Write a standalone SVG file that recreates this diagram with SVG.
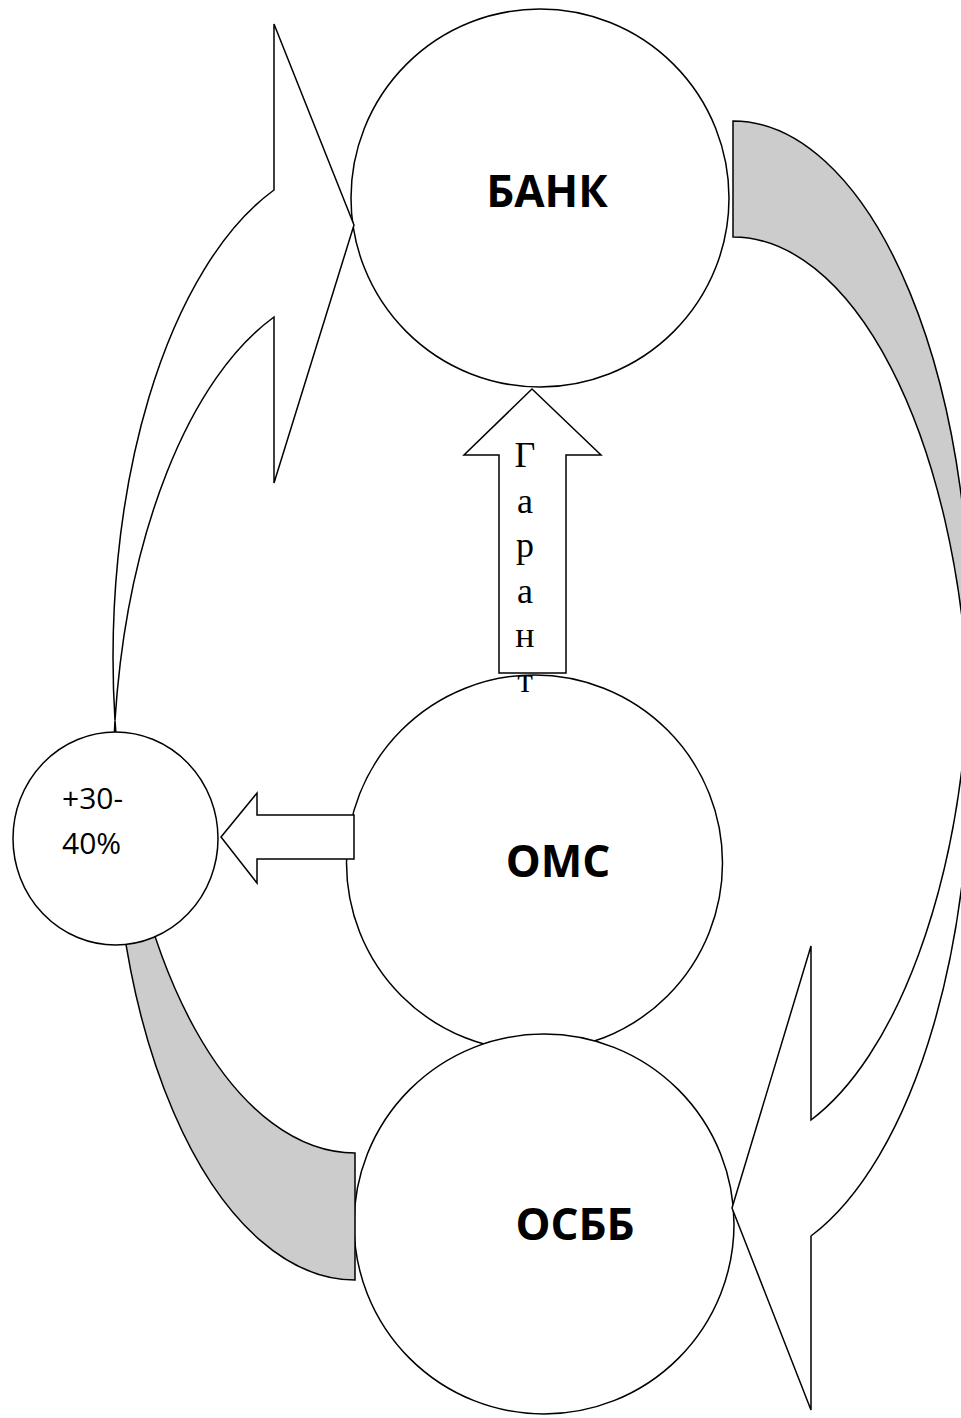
<svg xmlns="http://www.w3.org/2000/svg" width="961" height="1418" viewBox="0 0 961 1418">
<style>
.n{fill:#ffffff;stroke:#000000;stroke-width:1.5}
.a{fill:#ffffff;stroke:#000000;stroke-width:1.5;stroke-linejoin:miter}
.g{fill:#cccccc;stroke:#000000;stroke-width:1.5}
.t{font-family:"Open Sans","Liberation Sans",sans-serif;font-weight:bold;font-size:44px;fill:#000000;text-anchor:middle}
.p{font-family:"Open Sans","Liberation Sans",sans-serif;font-size:30px;fill:#000000}
.v{font-family:"Liberation Serif","Times New Roman",serif;font-size:36px;fill:#000000;text-anchor:middle}
</style>
<rect width="961" height="1418" fill="#ffffff"/>
<g id="oms">
<circle class="n" cx="534.5" cy="863" r="188"/>
</g>
<g id="osbb">
<circle class="n" cx="544" cy="1224" r="190"/>
</g>
<g id="bank">
<circle class="n" cx="540" cy="198" r="189"/>
</g>
<g id="connectors">
<path class="a" d="M274,190 A242,496 0 0 0 115,720.5 A242,496 0 0 1 274,317 L274,483 L354,225 L274,24 Z"/>
<path class="g" d="M115,720.5 A242,496 0 0 0 355,1280 L355,1153 A242,496 0 0 1 115,720.5 Z"/>
<path class="g" d="M733,121 A237,513 0 0 1 968.5,692 A237,513 0 0 0 733,237 Z"/>
<path class="a" d="M968.5,692 A237,513 0 0 1 811,1120 L811,946 L732,1208 L811,1410 L811,1236 A237,513 0 0 0 968.5,692 Z"/>
</g>
<g id="pct">
<ellipse class="n" cx="115.5" cy="838.5" rx="102.5" ry="106.5"/>
<text class="p" x="62" y="809">+30-</text>
<text class="p" x="62" y="854">40%</text>
</g>
<g id="connectors2">
<polygon class="a" points="221,837 257,793 257,815 354,815 354,859 257,859 257,883"/>
<polygon class="a" points="532,389 601,455 566,455 566,673 499,673 499,455 464,455"/>
</g>
<g id="guarantee-label">
<text class="v" x="525" y="467">Г</text>
<text class="v" x="525" y="513">а</text>
<text class="v" x="525" y="557">р</text>
<text class="v" x="525" y="603">а</text>
<text class="v" x="525" y="647">н</text>
<text class="v" x="525" y="692">т</text>
</g>
<g id="labels">
<text class="t" x="547" y="207">БАНК</text>
<text class="t" x="558" y="877">ОМС</text>
<text class="t" x="575" y="1240">ОСББ</text>
</g>
</svg>
